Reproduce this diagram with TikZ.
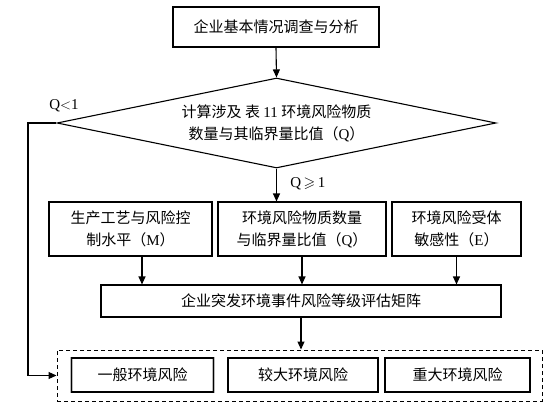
\documentclass[tikz,border=0pt]{standalone}
\usepackage{amsmath}
\usepackage{amssymb}
\usepackage{fontspec}
\setmainfont{Noto Sans CJK SC}
\newfontfamily\lat{Liberation Serif}
\usetikzlibrary{shapes.geometric, arrows.meta, positioning}

\begin{document}
\begin{tikzpicture}[x=1pt, y=-1pt,
    box/.style={draw, line width=1.1pt, align=center, inner sep=0pt, font=\fontsize{15}{22}\selectfont},
    grpbox/.style={box, preaction={draw=gray!55, line width=2.6pt}},
    arr/.style={-{Triangle[length=8pt,width=7pt]}, line width=1.1pt}]
        \useasboundingbox (0,0) rectangle (555,412);

        % Survey box
        \node[box, minimum width=206pt, minimum height=40pt] (svy) at (276,27) {企业基本情况调查与分析};

        % Decision on Q
        \node[box, diamond, aspect=4.88, minimum width=439pt, minimum height=90pt] (dia) at (276.5,123)
            {计算涉及 表 {\lat 11} 环境风险物质\\数量与其临界量比值（{\lat Q}）};

        % Three factors
        \node[box, minimum width=163pt, minimum height=54pt] (ctl) at (130.5,229)
            {生产工艺与风险控\\制水平（{\lat M}）};
        \node[box, minimum width=168pt, minimum height=54pt] (qty) at (302,229)
            {环境风险物质数量\\与临界量比值（{\lat Q}）};
        \node[box, minimum width=129pt, minimum height=54pt] (sns) at (456.5,229)
            {环境风险受体\\敏感性（{\lat E}）};

        % Risk matrix
        \node[box, minimum width=400pt, minimum height=32pt] (mat) at (301,301) {企业突发环境事件风险等级评估矩阵};

        % Risk levels
        \node[draw, dashed, dash pattern=on 4pt off 3pt, line width=1pt, minimum width=485pt, minimum height=51pt] (grp) at (299.5,375.5) {};
        \node[grpbox, minimum width=142pt, minimum height=34pt] (lv1) at (142.5,375) {一般环境风险};
        \node[grpbox, minimum width=150pt, minimum height=34pt] (lv2) at (303,375) {较大环境风险};
        \node[grpbox, minimum width=145pt, minimum height=34pt] (lv3) at (457.5,375) {重大环境风险};

        % Connectors
        \draw[arr] (svy.south) -- (dia.north);
        \draw[arr] (dia.south) -- (dia.south |- qty.north)
            node[pos=0.45, right=10pt, font=\fontsize{15}{18}\selectfont] (ge) {\lat Q\,$\geqslant$\,1};
        \coordinate (turn) at (28,123);
        \draw[arr] (dia.west) -- (turn) |- (grp.west);
        \node[font=\fontsize{15}{18}\selectfont] (lt) at (64,106) {\lat Q$<$1};
        \draw[arr] ([xshift=11.5pt]ctl.south) -- ([xshift=11.5pt]ctl.south |- mat.north);
        \draw[arr] (qty.south) -- (qty.south |- mat.north);
        \draw[arr] (sns.south) -- (sns.south |- mat.north);
        \draw[arr] (mat.south) -- (mat.south |- grp.north);
\end{tikzpicture}
\end{document}
